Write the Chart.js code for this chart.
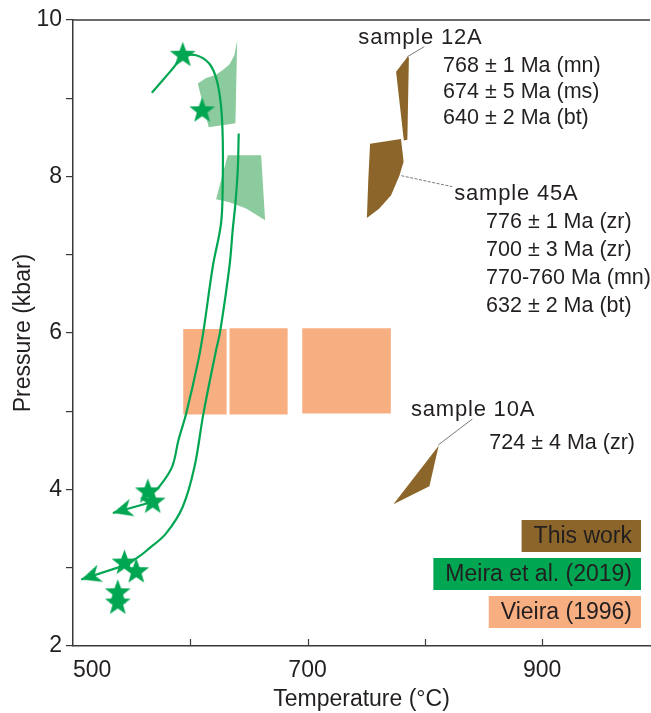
<!DOCTYPE html>
<html>
<head>
<meta charset="utf-8">
<title>P-T paths</title>
<script src="https://cdn.jsdelivr.net/npm/chart.js@4.4.1/dist/chart.umd.min.js"></script>
<style>
  html, body { margin: 0; padding: 0; background: #ffffff; }
  #wrap { position: relative; width: 651px; height: 713px; }
</style>
</head>
<body>
<div id="wrap"><canvas id="ptChart" width="651" height="713"></canvas></div>
<script>
// axis ticks: temperature (°C) and pressure (kbar)
const tempTicks = [500, 600, 700, 800, 900];
const tempTickLabels = ['500', '', '700', '', '900'];
const presTicks = [2, 3, 4, 5, 6, 7, 8, 9, 10];
const presTickLabels = ['2', '', '4', '', '6', '', '8', '', '10'];

// Vieira (1996) - P-T boxes as [T, P] corners
const vieiraBoxA = [[594, 4.96], [631, 4.96], [631, 6.05], [594, 6.05]];
const vieiraBoxB = [[633.5, 4.96], [683, 4.96], [683, 6.06], [633.5, 6.06]];
const vieiraBoxC = [[695.5, 4.97], [771, 4.97], [771, 6.06], [695.5, 6.06]];

// Meira et al. (2019) - peak fields, paths, retrograde arrows and stars
const meiraFieldUpper = [[640.0, 9.74], [637.6, 9.55], [633.4, 9.43], [627.7, 9.36], [622.0, 9.30],
  [613.5, 9.26], [606.4, 9.19], [615.7, 8.63], [638.5, 8.68]];
const meiraFieldLower = [[631.9, 8.27], [660.4, 8.27], [663.8, 7.44], [647.6, 7.59], [633.4, 7.67], [622.0, 7.71]];
const meiraPathA = [[567.2, 9.07], [576.5, 9.23], [585.1, 9.38], [593.6, 9.53], [605.0, 9.55], [616.3, 9.44],
  [622.6, 9.23], [626.3, 8.89], [627.7, 8.47], [627.7, 7.96], [626.3, 7.41], [619.2, 6.85], [611.2, 6.02],
  [607.0, 5.66], [596.5, 4.97], [589.9, 4.63], [584.5, 4.29], [573.7, 4.04], [565.2, 3.92]];
const meiraPathB = [[641.3, 8.55], [640.5, 8.09], [638.5, 7.66], [636.2, 7.32], [633.4, 6.85], [625.5, 6.02],
  [622.0, 5.78], [611.2, 4.97], [603.6, 4.29], [593.6, 3.78], [579.4, 3.44], [565.2, 3.25], [553.9, 3.12],
  [543.9, 3.06]];
const meiraArrowA = [[565, 3.83], [534, 3.70]];
const meiraArrowB = [[544, 3.03], [507, 2.85]];
const meiraStars = [[593.6, 9.55], [610.1, 8.84], [563.8, 3.97], [568.0, 3.84],
  [543.9, 3.06], [553.9, 2.95], [538.2, 2.68], [538.2, 2.55]];

// this work - P-T fields of the three samples
const sample12A = [[785.3, 9.53], [775.5, 9.34], [782.1, 8.46], [785.1, 8.47], [786.4, 9.52]];
const sample45A = [[753.3, 8.42], [779.7, 8.48], [781.9, 8.19], [778.3, 8.01], [771.2, 7.76],
  [761.2, 7.59], [750.6, 7.47], [751.8, 7.96]];
const sample10A = [[811.8, 4.56], [803.9, 4.04], [773.2, 3.81]];
const ages12A = ['768 ± 1 Ma (mn)', '674 ± 5 Ma (ms)', '640 ± 2 Ma (bt)'];
const ages45A = ['776 ± 1 Ma (zr)', '700 ± 3 Ma (zr)', '770-760 Ma (mn)', '632 ± 2 Ma (bt)'];
const ages10A = ['724 ± 4 Ma (zr)'];

const BROWN = '#8b6529';
const GREEN = '#00a651';
const LIGHT_GREEN = '#8bcb9d';
const SALMON = '#f7ae81';
const INK = '#231f20';
const AXIS = '#3a3a3a';
const FONT = 'Arial, "Liberation Sans", Helvetica, sans-serif';

Chart.defaults.font.family = FONT;
Chart.defaults.font.size = 23;
Chart.defaults.color = INK;

const xy = pts => pts.map(([t, p]) => ({ x: t, y: p }));

// filled five-point star used as a point style
function starImage(outer, inner, color) {
    const size = Math.ceil(outer * 2) + 2;
    const c = document.createElement('canvas');
    c.width = c.height = size;
    const g = c.getContext('2d');
    g.fillStyle = color;
    g.beginPath();
    for (let k = 0; k < 10; k++) {
        const r = k % 2 ? inner : outer;
        const a = -Math.PI / 2 + k * Math.PI / 5;
        g.lineTo(size / 2 + r * Math.cos(a), size / 2 + r * Math.sin(a));
    }
    g.closePath();
    g.fill();
    return c;
}

// barbed arrow head, tip in the middle of the canvas, pointing along +x
function arrowImage(len, half, notch, color) {
    const size = 2 * len + 4;
    const c = document.createElement('canvas');
    c.width = c.height = size;
    const g = c.getContext('2d');
    const m = size / 2;
    g.fillStyle = color;
    g.beginPath();
    g.moveTo(m, m);
    g.lineTo(m - len, m - half);
    g.lineTo(m - len + notch, m);
    g.lineTo(m - len, m + half);
    g.closePath();
    g.fill();
    return c;
}

function field(label, pts, color, order) {
    return {
        label, order,
        data: xy(pts),
        backgroundColor: color,
        borderColor: color,
        borderWidth: 0,
        pointRadius: 0,
        fill: 'shape',
        tension: 0
    };
}

function path(label, pts, tension, order) {
    return {
        label, order,
        data: xy(pts),
        borderColor: GREEN,
        borderWidth: 2.2,
        pointRadius: 0,
        fill: false,
        tension
    };
}

const arrows = [meiraArrowA, meiraArrowB];

const notesPlugin = {
    id: 'notes',
    afterDraw(chart) {
        const { ctx, chartArea: area, scales: { x, y } } = chart;
        const px = v => x.getPixelForValue(v);
        const py = v => y.getPixelForValue(v);
        ctx.save();

        // top edge of the frame
        ctx.strokeStyle = AXIS;
        ctx.lineWidth = 1.5;
        ctx.beginPath();
        ctx.moveTo(area.left, area.top);
        ctx.lineTo(area.right, area.top);
        ctx.stroke();

        // temperature ticks point into the plot
        ctx.lineWidth = 1.2;
        ctx.beginPath();
        tempTicks.slice(1).forEach(t => {
            const tx = Math.round(px(t)) + 0.5;
            ctx.moveTo(tx, area.bottom);
            ctx.lineTo(tx, area.bottom - 7);
        });
        ctx.stroke();

        // leader lines from the sample fields to their labels
        const leader = (a, b, dash) => {
            ctx.setLineDash(dash);
            ctx.beginPath();
            ctx.moveTo(px(a[0]), py(a[1]));
            ctx.lineTo(px(b[0]), py(b[1]));
            ctx.stroke();
        };
        ctx.strokeStyle = '#555';
        ctx.lineWidth = 0.8;
        leader([785.1, 9.53], [799.6, 9.66], []);
        leader([780.0, 8.01], [823.4, 7.87], [3, 1.5]);
        leader([811.5, 4.57], [840.5, 4.90], []);
        ctx.setLineDash([]);

        // sample names and ages
        ctx.fillStyle = INK;
        ctx.textAlign = 'left';
        ctx.textBaseline = 'middle';
        const block = (title, tAt, ages, aAt, step) => {
            ctx.font = `22px ${FONT}`;
            ctx.letterSpacing = '0.8px';
            ctx.fillText(title, px(tAt[0]), py(tAt[1]));
            ctx.font = `21.5px ${FONT}`;
            ctx.letterSpacing = '0px';
            ages.forEach((s, i) => ctx.fillText(s, px(aAt[0]), py(aAt[1]) + i * step));
        };
        block('sample 12A', [743.3, 9.776], ages12A, [815.6, 9.405], 25.8);
        block('sample 45A', [825.1, 7.776], ages45A, [852.2, 7.412], 27.9);
        block('sample 10A', [788.2, 5.016], ages10A, [855.0, 4.594], 28);

        // key: coloured blocks, right aligned
        const key = [['This work', BROWN], ['Meira et al. (2019)', GREEN], ['Vieira (1996)', SALMON]];
        ctx.font = `23px ${FONT}`;
        ctx.textAlign = 'right';
        key.forEach(([text, color], i) => {
            const w = ctx.measureText(text).width;
            const right = area.right - 9;
            const top = area.bottom - 126 + i * 38;
            ctx.fillStyle = color;
            ctx.fillRect(right - w - 21, top, w + 21, 32);
            ctx.fillStyle = INK;
            ctx.fillText(text, right - 9, top + 17);
        });

        ctx.restore();
    }
};

new Chart(document.getElementById('ptChart'), {
    type: 'line',
    data: {
        datasets: [
            {
                label: 'Meira et al. (2019) peak',
                order: 0,
                data: xy(meiraStars),
                showLine: false,
                pointStyle: starImage(13.5, 5.6, GREEN),
                pointRadius: 12
            },
            {
                label: 'retrograde arrow heads',
                order: 1,
                data: xy(arrows.map(a => a[1])),
                showLine: false,
                pointStyle: arrowImage(20, 9, 6, GREEN),
                pointRadius: 10,
                rotation: c => {
                    const [a, b] = arrows[c.dataIndex];
                    const { x, y } = c.chart.scales;
                    const dx = x.getPixelForValue(b[0]) - x.getPixelForValue(a[0]);
                    const dy = y.getPixelForValue(b[1]) - y.getPixelForValue(a[1]);
                    return Math.atan2(dy, dx) * 180 / Math.PI;
                }
            },
            path('Meira path A', meiraPathA, 0.35, 2),
            path('Meira path B', meiraPathB, 0.35, 2),
            path('Meira arrow A', meiraArrowA, 0, 2),
            path('Meira arrow B', meiraArrowB, 0, 2),
            field('sample 12A', sample12A, BROWN, 3),
            field('sample 45A', sample45A, BROWN, 3),
            field('sample 10A', sample10A, BROWN, 3),
            field('Meira field upper', meiraFieldUpper, LIGHT_GREEN, 4),
            field('Meira field lower', meiraFieldLower, LIGHT_GREEN, 4),
            field('Vieira A', vieiraBoxA, SALMON, 5),
            field('Vieira B', vieiraBoxB, SALMON, 5),
            field('Vieira C', vieiraBoxC, SALMON, 5)
        ]
    },
    options: {
        responsive: false,
        animation: false,
        events: [],
        layout: { autoPadding: false, padding: { top: 20, right: 1, bottom: 0, left: 0 } },
        plugins: {
            legend: { display: false },
            tooltip: { enabled: false }
        },
        scales: {
            x: {
                type: 'linear',
                min: 500,
                max: 992,
                afterBuildTicks: s => { s.ticks = tempTicks.concat([992]).map(v => ({ value: v })); },
                afterFit: s => { s.height = 67; s.paddingLeft = 0; s.paddingRight = 0; },
                ticks: {
                    autoSkip: false,
                    maxRotation: 0,
                    align: 'inner',
                    padding: 11,
                    color: INK,
                    font: { size: 23 },
                    callback: v => { const i = tempTicks.indexOf(v); return i < 0 ? '' : tempTickLabels[i]; }
                },
                grid: { display: true, drawOnChartArea: false, drawTicks: false },
                border: { display: true, color: AXIS, width: 1.5 },
                title: { display: true, text: 'Temperature (°C)', color: INK, font: { size: 23 }, padding: 0 }
            },
            y: {
                type: 'linear',
                min: 2,
                max: 10,
                afterBuildTicks: s => { s.ticks = presTicks.map(v => ({ value: v })); },
                afterFit: s => { s.width = 73; },
                ticks: {
                    autoSkip: false,
                    padding: 4,
                    color: INK,
                    font: { size: 23 },
                    callback: v => { const i = presTicks.indexOf(v); return i < 0 ? '' : presTickLabels[i]; }
                },
                grid: { display: true, drawOnChartArea: false, drawTicks: true, tickLength: 7, color: AXIS, lineWidth: 1.2 },
                border: { display: true, color: AXIS, width: 1.5 },
                title: { display: true, text: 'Pressure (kbar)', color: INK, font: { size: 23 }, padding: { top: 10, bottom: 0 } }
            }
        }
    },
    plugins: [notesPlugin]
});
</script>
</body>
</html>
